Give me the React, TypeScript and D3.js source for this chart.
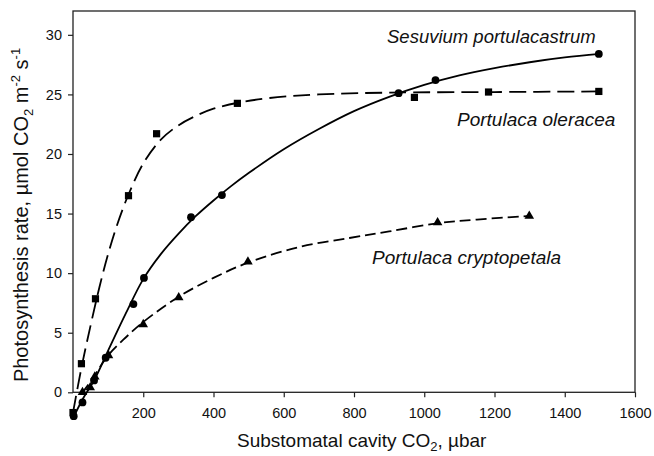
import React, { useEffect, useRef } from 'react';
import * as d3 from 'd3';

// measured points (substomatal CO2, µbar / photosynthesis rate)
const sesuviumCi = [2, 27, 60, 93, 172, 202, 336, 424, 927, 1032, 1497];
const sesuviumA = [-2.0, -0.85, 1.0, 2.9, 7.4, 9.6, 14.7, 16.55, 25.1, 26.2, 28.4];

const oleraceaCi = [0, 24, 64, 158, 238, 468, 972, 1183, 1497];
const oleraceaA = [-1.7, 2.4, 7.85, 16.5, 21.7, 24.25, 24.75, 25.2, 25.25];

const cryptoCi = [27, 49, 62, 101, 200, 301, 498, 1038, 1299];
const cryptoA = [0, 0.4, 1.3, 3.1, 5.7, 7.95, 10.95, 14.25, 14.8];

// fitted curves
const sesuviumFitCi = [3, 27, 60, 100, 150, 200, 250, 300, 350, 400, 450, 500, 600, 700, 800, 900, 1000, 1100, 1200, 1300, 1400, 1500];
const sesuviumFitA = [-2.0, -0.6, 1.0, 3.5, 6.6, 9.5, 11.6, 13.3, 14.8, 16.1, 17.3, 18.4, 20.4, 22.1, 23.6, 24.8, 25.8, 26.6, 27.2, 27.7, 28.1, 28.4];

const oleraceaFitCi = [0, 25, 50, 75, 100, 125, 158, 200, 250, 300, 350, 400, 470, 560, 700, 900, 1200, 1500];
const oleraceaFitA = [-1.7, 2.2, 5.6, 8.8, 11.6, 14.0, 16.6, 19.2, 21.2, 22.4, 23.2, 23.8, 24.3, 24.7, 25.0, 25.15, 25.2, 25.25];

const cryptoFitCi = [25, 50, 100, 150, 200, 300, 400, 500, 645, 787, 900, 1040, 1150, 1300];
const cryptoFitA = [-0.1, 0.9, 3.1, 4.6, 5.9, 8.0, 9.6, 10.9, 12.2, 12.95, 13.5, 14.2, 14.5, 14.8];

const xTicks = [200, 400, 600, 800, 1000, 1200, 1400, 1600];
const yTicks = [0, 5, 10, 15, 20, 25, 30];

const zip = (xs: number[], ys: number[]) => xs.map((x, i) => [x, ys[i]] as [number, number]);

const App = () => {
    const ref = useRef<SVGSVGElement>(null);

    useEffect(() => {
        if (!ref.current) return;
        const svg = d3.select(ref.current);
        svg.selectAll('*').remove();

        const left = 73, right = 635, top = 11, bottom = 392.3;
        const x = d3.scaleLinear().domain([0, 1600]).range([left, right]);
        const y = d3.scaleLinear().domain([0, 32]).range([bottom, top]);
        const font = 'Liberation Sans, Arial, sans-serif';

        // frame
        svg.append('rect')
            .attr('x', left).attr('y', top)
            .attr('width', right - left).attr('height', bottom - top)
            .attr('fill', 'none').attr('stroke', '#222').attr('stroke-width', 1.3);

        // x axis
        const xAxis = svg.append('g')
            .attr('transform', `translate(0,${bottom})`)
            .call(d3.axisBottom(x).tickValues(xTicks).tickFormat(d3.format('d')).tickSize(5).tickPadding(10).tickSizeOuter(0));
        xAxis.select('.domain').remove();
        xAxis.selectAll('line').attr('stroke', '#222').attr('stroke-width', 1.2);
        xAxis.selectAll('text').attr('font-family', font).attr('font-size', 14.5).attr('fill', '#111');

        // y axis
        const yAxis = svg.append('g')
            .attr('transform', `translate(${left},0)`)
            .call(d3.axisLeft(y).tickValues(yTicks).tickFormat(d3.format('d')).tickSize(5).tickPadding(6).tickSizeOuter(0));
        yAxis.select('.domain').remove();
        yAxis.selectAll('line').attr('stroke', '#222').attr('stroke-width', 1.2);
        yAxis.selectAll('text').attr('font-family', font).attr('font-size', 14.5).attr('fill', '#111');

        // axis titles
        const xt = svg.append('text')
            .attr('x', 237).attr('y', 447)
            .attr('font-family', font).attr('font-size', 19).attr('fill', '#111');
        xt.append('tspan').text('Substomatal cavity CO');
        xt.append('tspan').attr('font-size', 13).attr('dy', 4).text('2');
        xt.append('tspan').attr('dy', -4).text(', µbar');

        const yt = svg.append('text')
            .attr('transform', 'translate(28,215) rotate(-90)')
            .attr('text-anchor', 'middle')
            .attr('font-family', font).attr('font-size', 20).attr('fill', '#111');
        yt.append('tspan').text('Photosynthesis rate, µmol CO');
        yt.append('tspan').attr('font-size', 13).attr('dy', 5).text('2');
        yt.append('tspan').attr('dy', -5).text(' m');
        yt.append('tspan').attr('font-size', 13).attr('dy', -8).text('-2');
        yt.append('tspan').attr('dy', 8).text(' s');
        yt.append('tspan').attr('font-size', 13).attr('dy', -8).text('-1');

        // fitted curves
        const line = d3.line<[number, number]>()
            .x(d => x(d[0])).y(d => y(d[1]))
            .curve(d3.curveCatmullRom.alpha(0.5));

        svg.append('path').attr('d', line(zip(oleraceaFitCi, oleraceaFitA)))
            .attr('fill', 'none').attr('stroke', '#000').attr('stroke-width', 1.8)
            .attr('stroke-dasharray', '17,7');
        svg.append('path').attr('d', line(zip(cryptoFitCi, cryptoFitA)))
            .attr('fill', 'none').attr('stroke', '#000').attr('stroke-width', 1.8)
            .attr('stroke-dasharray', '11,5');
        svg.append('path').attr('d', line(zip(sesuviumFitCi, sesuviumFitA)))
            .attr('fill', 'none').attr('stroke', '#000').attr('stroke-width', 1.8);

        // markers
        svg.selectAll('.sq').data(zip(oleraceaCi, oleraceaA)).enter().append('rect')
            .attr('x', d => x(d[0]) - 3.6).attr('y', d => y(d[1]) - 3.6)
            .attr('width', 7.2).attr('height', 7.2).attr('fill', '#000');
        svg.selectAll('.tri').data(zip(cryptoCi, cryptoA)).enter().append('path')
            .attr('d', d3.symbol(d3.symbolTriangle, 40)())
            .attr('transform', d => `translate(${x(d[0])},${y(d[1])})`)
            .attr('fill', '#000');
        svg.selectAll('.dot').data(zip(sesuviumCi, sesuviumA)).enter().append('circle')
            .attr('cx', d => x(d[0])).attr('cy', d => y(d[1]))
            .attr('r', 3.9).attr('fill', '#000');

        // labels
        const labels: [string, number, number, number][] = [
            ['Sesuvium portulacastrum', 387, 43, 18.5],
            ['Portulaca oleracea', 457, 126, 19],
            ['Portulaca cryptopetala', 372, 264, 19],
        ];
        svg.selectAll('.lab').data(labels).enter().append('text')
            .attr('x', d => d[1]).attr('y', d => d[2])
            .attr('font-family', font).attr('font-size', d => d[3])
            .attr('font-style', 'italic').attr('fill', '#111')
            .text(d => d[0]);
    }, []);

    return (
        <svg ref={ref} width={654} height={456}
            style={{ position: 'absolute', left: 0, top: 0, background: '#fff' }} />
    );
};

export default App;
